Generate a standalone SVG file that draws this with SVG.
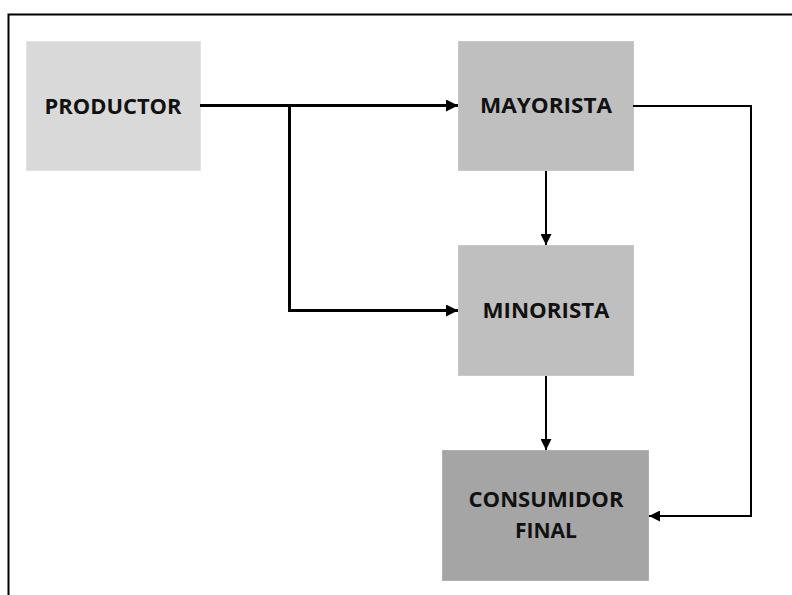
<svg xmlns="http://www.w3.org/2000/svg" width="792" height="595" viewBox="0 0 792 595">
  <style>
    .box { stroke-width: 1; }
    .lbl { font-family: "Open Sans", "Liberation Sans", Arial, sans-serif; font-weight: bold; font-size: 22px; fill: #111; text-anchor: middle; }
    .thick { fill: none; stroke: #000; stroke-width: 3; }
    .thin { fill: none; stroke: #000; stroke-width: 2; }
  </style>
  <defs>
    <marker id="arr" viewBox="0 0 10 10" refX="10" refY="5" markerWidth="4" markerHeight="4" markerUnits="strokeWidth" orient="auto">
      <path d="M0,0 L10,5 L0,10 z" fill="#000"/>
    </marker>
    <marker id="arrS" viewBox="0 0 10 10" refX="10" refY="5" markerWidth="5.5" markerHeight="5.5" markerUnits="strokeWidth" orient="auto">
      <path d="M0,0 L10,5 L0,10 z" fill="#000"/>
    </marker>
  </defs>
  <rect width="792" height="595" fill="#fff"/>
  <!-- outer frame -->
  <path d="M8.5,595 V14.5 H792" fill="none" stroke="#000" stroke-width="2"/>

  <g id="productor">
    <rect class="box" x="26.5" y="41.5" width="174" height="129" fill="#d9d9d9" stroke="#e2e2e2"/>
    <text class="lbl" x="113" y="114" textLength="137" lengthAdjust="spacingAndGlyphs">PRODUCTOR</text>
  </g>
  <g id="mayorista">
    <rect class="box" x="458.5" y="41.5" width="175" height="129" fill="#bfbfbf" stroke="#c8c8c8"/>
    <text class="lbl" x="546" y="113" textLength="132" lengthAdjust="spacingAndGlyphs">MAYORISTA</text>
  </g>
  <g id="minorista">
    <rect class="box" x="458.5" y="245.5" width="175" height="130" fill="#bfbfbf" stroke="#c8c8c8"/>
    <text class="lbl" x="546" y="318" textLength="127" lengthAdjust="spacingAndGlyphs">MINORISTA</text>
  </g>
  <g id="consumidor">
    <rect class="box" x="442.5" y="450.5" width="206" height="130" fill="#a5a5a5" stroke="#b0b0b0"/>
    <text class="lbl" x="546" y="507" textLength="155" lengthAdjust="spacingAndGlyphs">CONSUMIDOR</text>
    <text class="lbl" x="546" y="538" textLength="62" lengthAdjust="spacingAndGlyphs">FINAL</text>
  </g>

  <g id="connectors">
    <path class="thick" d="M200,105.5 H458" marker-end="url(#arr)"/>
    <path class="thick" d="M289.5,105.5 V310.5 H458" marker-end="url(#arr)"/>
    <path class="thin" d="M633,106 H751 V516 H649" marker-end="url(#arrS)"/>
    <path class="thin" d="M546,171 V245" marker-end="url(#arrS)"/>
    <path class="thin" d="M546,376 V450" marker-end="url(#arrS)"/>
  </g>
</svg>
